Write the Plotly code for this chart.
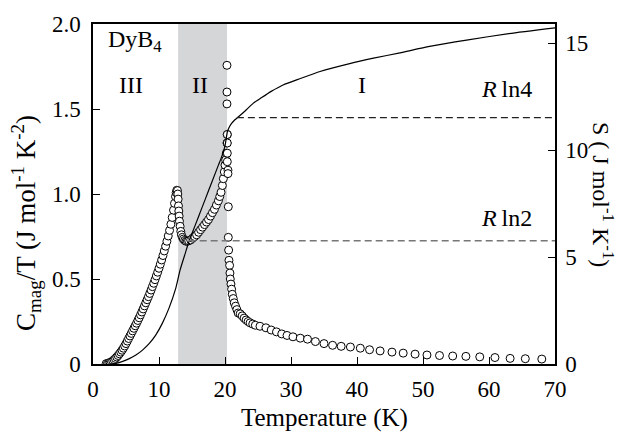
import numpy as np
import plotly.graph_objects as go

# ---- data ----
T_data = [2.0, 2.2, 2.4, 2.6, 2.8, 3.0, 3.2, 3.4, 3.6, 3.8, 4.0, 4.2, 4.4, 4.6, 4.8, 5.0, 5.2, 5.4, 5.6, 5.8,
          6.0, 6.2, 6.4, 6.6, 6.8, 7.0, 7.2, 7.4, 7.6, 7.8, 8.0, 8.2, 8.4, 8.6, 8.8, 9.0, 9.2, 9.4, 9.6, 9.8,
          10.0, 10.2, 10.4, 10.6, 10.8, 11.0, 11.2, 11.4, 11.6, 11.8, 12.0, 12.2, 12.35, 12.5, 12.6, 12.7, 12.8,
          12.85, 12.9, 12.95, 13.0, 13.05, 13.1, 13.2, 13.3, 13.4, 13.55, 13.7, 13.9, 14.1, 14.3,
          14.5, 14.8, 15.1, 15.4, 15.7, 16.0, 16.3, 16.6, 16.9, 17.2, 17.5, 17.8, 18.1, 18.4, 18.7, 19.0,
          19.2, 19.4, 19.6, 19.75, 19.9, 20.0, 20.1, 20.2, 20.3, 20.35,
          20.3, 20.3, 20.3, 20.35, 20.35, 20.35, 20.35, 20.45, 20.45, 20.5, 20.5, 20.55, 20.6, 20.7, 20.75,
          20.8, 20.9, 21.0, 21.1, 21.25, 21.4, 21.6, 21.8, 22.0, 22.3, 22.6, 22.9, 23.2, 23.5, 23.8, 24.2,
          24.6, 25.3, 26.2, 27.0, 27.8, 28.6, 29.4, 30.3, 31.4, 32.5, 33.7, 35.0, 36.3, 37.6, 39.0, 40.5,
          41.9, 43.5, 45.3, 47.0, 48.8, 50.6, 52.5, 54.5, 56.5, 58.6, 60.9, 63.2, 65.5, 68.0]
C_over_T = [0.002, 0.004, 0.006, 0.009, 0.013, 0.019, 0.026, 0.033, 0.041, 0.050, 0.060, 0.070, 0.081, 0.093,
            0.106, 0.12, 0.135, 0.15, 0.165, 0.18, 0.195, 0.21, 0.225, 0.24, 0.256, 0.272, 0.289, 0.306,
            0.324, 0.342, 0.36, 0.378, 0.396, 0.415, 0.435, 0.455, 0.475, 0.496, 0.518, 0.54, 0.563, 0.587,
            0.612, 0.638, 0.665, 0.693, 0.722, 0.753, 0.786, 0.822, 0.862, 0.905, 0.945, 0.985, 1.008, 1.022, 1.02,
            1.0, 0.97, 0.93, 0.90, 0.87, 0.84, 0.81, 0.78, 0.76, 0.745, 0.735, 0.727, 0.722, 0.722,
            0.725, 0.73, 0.74, 0.75, 0.76, 0.775, 0.79, 0.805, 0.82, 0.835, 0.85, 0.87, 0.89, 0.91, 0.935, 0.96,
            0.985, 1.01, 1.05, 1.09, 1.13, 1.17, 1.20, 1.24, 1.30, 1.35,
            1.757, 1.60, 1.53, 1.35, 1.30, 1.24, 1.19, 1.14, 1.12, 0.925, 0.745, 0.67, 0.61, 0.58, 0.535, 0.50,
            0.47, 0.44, 0.41, 0.385, 0.36, 0.34, 0.32, 0.30, 0.295, 0.283, 0.27, 0.259, 0.25, 0.242, 0.235, 0.228,
            0.222, 0.213, 0.20, 0.189, 0.177, 0.168, 0.160, 0.152, 0.146, 0.132, 0.12, 0.11, 0.104, 0.10, 0.093,
            0.084, 0.077, 0.070, 0.064, 0.058, 0.053, 0.050, 0.047, 0.045, 0.042, 0.038, 0.033, 0.031, 0.029, 0.027]

T_S = [2.5, 3.5, 4.5, 5.5, 6.5, 7.5, 8.5, 9.5, 10.5, 11.5, 12.5, 13.2, 14.0, 14.4, 15.0, 16.0, 17.0, 18.0,
       19.0, 19.5, 20.0, 20.35, 20.6, 21.0, 21.5, 22.0, 23.0, 24.3, 25.5, 27.0, 28.8, 31.4, 34.4, 38.9,
       42.5, 46.5, 51.0, 56.6, 63.0, 70.0]
S_vals = [0.0, 0.03, 0.12, 0.25, 0.42, 0.65, 0.95, 1.35, 1.9, 2.6, 3.5, 4.4, 5.2, 5.6, 6.1, 6.9, 7.7, 8.5,
          9.3, 9.7, 10.2, 10.85, 11.05, 11.25, 11.42, 11.55, 11.82, 12.2, 12.45, 12.75, 13.05, 13.35, 13.68,
          14.05, 14.3, 14.55, 14.85, 15.15, 15.45, 15.72]

R = 8.314
Rln4_T = [21.8, 70.0]
Rln2_T = [14.5, 70.0]
Rln4 = R * np.log(4)
Rln2 = R * np.log(2)

phase_II = [12.9, 20.3]

x_ticks = [0, 10, 20, 30, 40, 50, 60, 70]
y_ticks = [0, 0.5, 1.0, 1.5, 2.0]
y_ticktext = ["0", "0.5", "1.0", "1.5", "2.0"]
y2_ticks = [0, 5, 10, 15]

FONT = "Liberation Serif, Times New Roman, DejaVu Serif, serif"
fig = go.Figure()

fig.add_trace(go.Scatter(x=T_S, y=S_vals, yaxis="y2", mode="lines",
                         line=dict(color="black", width=1.2, shape="spline", smoothing=0.6),
                         showlegend=False))
fig.add_trace(go.Scatter(x=Rln4_T, y=[Rln4, Rln4], yaxis="y2", mode="lines",
                         line=dict(color="#222", width=1.2, dash="7px,4px"), showlegend=False))
fig.add_trace(go.Scatter(x=Rln2_T, y=[Rln2, Rln2], yaxis="y2", mode="lines",
                         line=dict(color="#777", width=1.5, dash="7px,4px"), showlegend=False))
fig.add_trace(go.Scatter(x=T_data, y=C_over_T, mode="markers",
                         marker=dict(symbol="circle", size=8, color="white",
                                     line=dict(color="black", width=1)),
                         showlegend=False))

fig.add_shape(type="rect", xref="x", yref="paper", x0=phase_II[0], x1=phase_II[1], y0=0, y1=1,
              fillcolor="#d5d6d8", line=dict(width=0), layer="below")

axis_common = dict(showgrid=False, zeroline=False, showline=True, linecolor="black", linewidth=1.5,
                   ticks="inside", ticklen=7, tickwidth=1.2, tickcolor="black",
                   tickfont=dict(family=FONT, size=23, color="black"))

fig.update_layout(
    width=621, height=438,
    margin=dict(l=93, r=66, t=13, b=74),
    paper_bgcolor="white", plot_bgcolor="white",
    font=dict(family=FONT, color="black"),
    xaxis=dict(range=[0, 70], tickvals=x_ticks, mirror=True, ticklabelstandoff=4, **axis_common),
    yaxis=dict(range=[0, 2.0], tickvals=y_ticks, ticktext=y_ticktext, ticklabelstandoff=6, **axis_common),
    yaxis2=dict(range=[0, 15.9], tickvals=y2_ticks, overlaying="y", side="right", ticklabelstandoff=4,
                **axis_common),
)

lab_font = dict(family=FONT, size=24, color="black")
title_font = dict(family=FONT, size=25, color="black")
ytitle_font = dict(family=FONT, size=27, color="black")
anns = [
    dict(text="DyB<sub>4</sub>", x=2.0, y=1.9, xref="x", yref="y", xanchor="left", yanchor="middle", font=lab_font),
    dict(text="III", x=5.7, y=1.64, xref="x", yref="y", xanchor="center", yanchor="middle", font=lab_font),
    dict(text="II", x=16.2, y=1.64, xref="x", yref="y", xanchor="center", yanchor="middle", font=lab_font),
    dict(text="I", x=40.8, y=1.64, xref="x", yref="y", xanchor="center", yanchor="middle", font=lab_font),
    dict(text="<i>R</i>\u2009ln4", x=66.8, y=Rln4 + 1.35, xref="x", yref="y2", xanchor="right",
         yanchor="middle", font=lab_font),
    dict(text="<i>R</i>\u2009ln2", x=66.8, y=Rln2 + 1.05, xref="x", yref="y2", xanchor="right",
         yanchor="middle", font=lab_font),
    dict(text="Temperature (K)", x=0.5, y=-0.16, xref="paper", yref="paper", xanchor="center",
         yanchor="middle", font=title_font),
    dict(text="C<sub>mag</sub>/T (J mol<sup>-1</sup> K<sup>-2</sup>)", x=-0.145, y=0.415, xref="paper",
         yref="paper", textangle=-90, xanchor="center", yanchor="middle", font=ytitle_font),
    dict(text="S ( J mol<sup>-1</sup> K<sup>-1</sup>)", x=1.104, y=0.5, xref="paper", yref="paper",
         textangle=90, xanchor="center", yanchor="middle", font=lab_font),
]
for a in anns:
    a["showarrow"] = False
fig.update_layout(annotations=anns)

fig.write_html("out.html")
